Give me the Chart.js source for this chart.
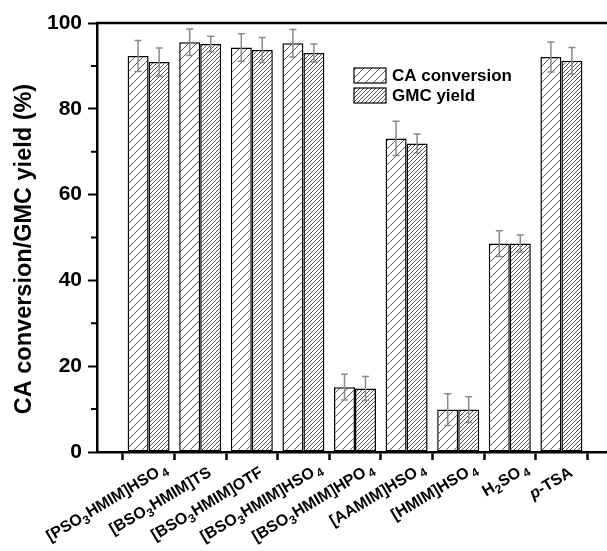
<!DOCTYPE html>
<html>
<head>
<meta charset="utf-8">
<script src="https://cdn.jsdelivr.net/npm/chart.js@4.4.1/dist/chart.umd.min.js"></script>
<style>
  html, body { margin: 0; padding: 0; background: #fff; overflow: hidden; }
  #wrap { width: 607px; height: 551px; overflow: hidden; position: relative; background: #fff; }
  canvas { display: block; }
</style>
</head>
<body>
<div id="wrap"><canvas id="chart" width="620" height="551"></canvas></div>
<script>
// Catalysts; {n} marks a subscript, *x* marks italic text
const categories = [
  '[PSO{3}HMIM]HSO{4}', '[BSO{3}HMIM]TS', '[BSO{3}HMIM]OTF', '[BSO{3}HMIM]HSO{4}',
  '[BSO{3}HMIM]HPO{4}', '[AAMIM]HSO{4}', '[HMIM]HSO{4}', 'H{2}SO{4}', '*p*-TSA'
];
const caConversion = [92.3, 95.5, 94.3, 95.3, 15.1, 73.1, 9.9, 48.6, 92.1];
const caError      = [3.6, 3.1, 3.2, 3.2, 3.0, 4.0, 3.7, 3.0, 3.5];
const gmcYield     = [90.9, 95.1, 93.7, 93.0, 14.8, 71.9, 9.9, 48.6, 91.2];
const gmcError     = [3.3, 1.8, 2.9, 2.1, 2.8, 2.2, 3.0, 2.0, 3.1];
const yTicks = [0, 20, 40, 60, 80, 100];
const seriesNames = ['CA conversion', 'GMC yield'];
const yTitle = 'CA conversion/GMC yield (%)';

const FONT = '"Liberation Sans", Arial, Helvetica, sans-serif';

// Diagonal hatch fill
function hatch(step, color) {
  const c = document.createElement('canvas');
  c.width = step; c.height = step;
  const g = c.getContext('2d');
  g.fillStyle = '#fff';
  g.fillRect(0, 0, step, step);
  g.strokeStyle = color;
  g.lineWidth = 1;
  g.beginPath();
  g.moveTo(-1, step + 1); g.lineTo(step + 1, -1);
  g.moveTo(-1, 1); g.lineTo(1, -1);
  g.moveTo(step - 1, step + 1); g.lineTo(step + 1, step - 1);
  g.stroke();
  return g.createPattern(c, 'repeat');
}

// One empty slot on each side so the axis starts a full step before the first group
const pad = arr => [null, ...arr, null];
const labels = ['', ...categories, ''];

function parseRich(s) {
  const out = [];
  const re = /\{([^}]*)\}|\*([^*]*)\*|([^{*]+)/g;
  let m;
  while ((m = re.exec(s))) {
    if (m[1] !== undefined) out.push({ t: m[1], k: 'sub' });
    else if (m[2] !== undefined) out.push({ t: m[2], k: 'it' });
    else out.push({ t: m[3], k: 'n' });
  }
  return out;
}

const errorBars = {
  id: 'errorBars',
  afterDatasetsDraw(chart) {
    const { ctx } = chart;
    const y = chart.scales.y;
    ctx.save();
    ctx.strokeStyle = '#8a8a8a';
    ctx.lineWidth = 1.5;
    chart.data.datasets.forEach((ds, di) => {
      const meta = chart.getDatasetMeta(di);
      meta.data.forEach((bar, i) => {
        const v = ds.data[i], e = ds.errors[i];
        if (v == null || e == null) return;
        const x = bar.x;
        const yt = y.getPixelForValue(v + e), yb = y.getPixelForValue(v - e);
        ctx.beginPath();
        ctx.moveTo(x, yt); ctx.lineTo(x, yb);
        ctx.moveTo(x - 3.5, yt); ctx.lineTo(x + 3.5, yt);
        ctx.moveTo(x - 3.5, yb); ctx.lineTo(x + 3.5, yb);
        ctx.stroke();
      });
    });
    ctx.restore();
  }
};

const decorations = {
  id: 'decorations',
  afterDraw(chart) {
    const { ctx, chartArea } = chart;
    const xs = chart.scales.x, ys = chart.scales.y;
    ctx.save();

    // top frame line
    ctx.strokeStyle = '#000';
    ctx.lineWidth = 2.5;
    ctx.beginPath();
    ctx.moveTo(chartArea.left - 1.25, chartArea.top);
    ctx.lineTo(chart.width, chartArea.top);
    ctx.stroke();

    // shorter minor ticks between the labelled ones
    ctx.lineWidth = 2;
    ctx.beginPath();
    ys.ticks.forEach(t => {
      if (yTicks.includes(t.value)) return;
      const py = ys.getPixelForValue(t.value);
      ctx.moveTo(chartArea.left - 6, py);
      ctx.lineTo(chartArea.left, py);
    });
    ctx.stroke();

    // rotated category labels with subscripts; the main text ends at the anchor,
    // a trailing subscript runs past it
    const angle = 31 * Math.PI / 180;
    ctx.fillStyle = '#000';
    ctx.textBaseline = 'alphabetic';
    categories.forEach((lab, i) => {
      const segs = parseRich(lab);
      const last = segs.length - 1;
      const fonts = segs.map(s => s.k === 'sub' ? `bold 12px ${FONT}`
        : s.k === 'it' ? `italic bold 16px ${FONT}` : `bold 16px ${FONT}`);
      const gaps = segs.map((s, j) => s.k === 'sub' ? (j === last ? 3 : 0.5) : 0);
      const widths = segs.map((s, j) => { ctx.font = fonts[j]; return ctx.measureText(s.t).width + gaps[j]; });
      let main = widths.reduce((a, b) => a + b, 0);
      if (segs[last].k === 'sub') main -= widths[last];
      const tx = xs.getPixelForValue(i + 1);
      ctx.save();
      ctx.translate(tx + 6, chartArea.bottom + 13);
      ctx.rotate(-angle);
      let cx = -main;
      segs.forEach((s, j) => {
        ctx.font = fonts[j];
        ctx.fillText(s.t, cx + (j === last && s.k === 'sub' ? 2 : 0), s.k === 'sub' ? 16 : 12);
        cx += widths[j];
      });
      ctx.restore();
    });

    // y-axis title
    ctx.save();
    ctx.font = `bold 23.5px ${FONT}`;
    ctx.textAlign = 'center';
    ctx.textBaseline = 'middle';
    ctx.translate(25, 249);
    ctx.rotate(-Math.PI / 2);
    ctx.fillText(yTitle, 0, 0);
    ctx.restore();

    // legend
    const lx = 354, ly = [68, 88], bw = 32, bh = 15;
    chart.data.datasets.forEach((ds, di) => {
      ctx.fillStyle = ds.backgroundColor;
      ctx.fillRect(lx, ly[di], bw, bh);
      ctx.strokeStyle = '#000';
      ctx.lineWidth = 1.2;
      ctx.strokeRect(lx, ly[di], bw, bh);
      ctx.fillStyle = '#000';
      ctx.font = `bold 17px ${FONT}`;
      ctx.textAlign = 'left';
      ctx.textBaseline = 'middle';
      ctx.fillText(ds.label, lx + bw + 6, ly[di] + bh / 2 + 1);
    });
    ctx.restore();
  }
};

new Chart(document.getElementById('chart'), {
  type: 'bar',
  data: {
    labels,
    datasets: [
      { label: seriesNames[0], data: pad(caConversion), errors: pad(caError), backgroundColor: hatch(8, '#555') },
      { label: seriesNames[1], data: pad(gmcYield), errors: pad(gmcError), backgroundColor: hatch(4, '#555') }
    ]
  },
  options: {
    responsive: false,
    animation: false,
    devicePixelRatio: 1,
    datasets: {
      bar: { categoryPercentage: 0.814, barPercentage: 1, borderColor: '#000', borderWidth: 1.5, borderSkipped: false }
    },
    layout: { padding: { top: 23, right: 7, left: 0, bottom: 0 } },
    plugins: { legend: { display: false }, tooltip: { enabled: false } },
    scales: {
      x: {
        offset: false,
        grid: { drawOnChartArea: false, drawTicks: true, tickLength: 8, tickWidth: 2.5, tickColor: '#000' },
        border: { display: true, width: 2.5, color: '#000' },
        ticks: { display: false },
        afterFit(s) { s.height = 99; }
      },
      y: {
        min: 0, max: 100,
        ticks: {
          stepSize: 10, autoSkip: false, padding: 6, color: '#000',
          font: { family: FONT, size: 21, weight: 'bold' },
          callback: v => (yTicks.includes(v) ? String(v) : '')
        },
        grid: {
          drawOnChartArea: false, drawTicks: true, tickLength: 9, tickWidth: 2,
          tickColor: c => (c.tick && yTicks.includes(c.tick.value) ? '#000' : 'rgba(0,0,0,0)')
        },
        border: { display: true, width: 2.5, color: '#000' },
        afterFit(s) { s.width = 97; }
      }
    }
  },
  plugins: [errorBars, decorations]
});
</script>
</body>
</html>
